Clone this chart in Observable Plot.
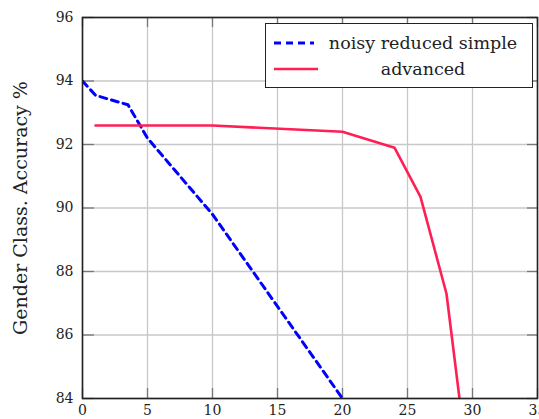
<!DOCTYPE html>
<html>
<head>
<meta charset="utf-8">
<script src="https://cdn.jsdelivr.net/npm/d3@7"></script>
<script src="https://cdn.jsdelivr.net/npm/@observablehq/plot@0.6"></script>
<style>
  html, body { margin: 0; padding: 0; background: #fff; }
  #wrap { position: relative; width: 539px; height: 419px; overflow: hidden; font-family: "DejaVu Serif", serif; }
  #legend { position: absolute; left: 265px; top: 23px; width: 268px; height: 65px; box-sizing: border-box;
            border: 1.6px solid #222; background: #fff; }
  .row { position: absolute; left: 0; right: 0; height: 22px; }
  .row svg { position: absolute; left: 7px; top: 0; }
  .row span { position: absolute; left: 60px; right: 12px; text-align: center; font-size: 17.5px; line-height: 22px; color: #222; white-space: nowrap; }
</style>
</head>
<body>
<div id="wrap"><div id="legend"></div></div>
<script>
const xTicks = [0, 5, 10, 15, 20, 25, 30, 35];
const yTicks = [84, 86, 88, 90, 92, 94, 96];
const seriesNames = ["noisy reduced simple", "advanced"];
const seriesColors = ["#0000ff", "#ff1f55"];
const seriesDash = ["7,5", null];
const noisyX = [0, 1, 3.5, 5, 10, 20];
const noisyY = [94, 93.55, 93.25, 92.2, 89.8, 84];
const advX = [1, 10, 20, 24, 26, 28, 29];
const advY = [92.6, 92.6, 92.4, 91.9, 90.35, 87.3, 84];
const yLabel = "Gender Class. Accuracy %";

const W = 539, H = 419, mL = 82, mR = 2, mT = 17, mB = 21;
const plotW = W - mL - mR, plotH = H - mT - mB;

const noisy = noisyX.map((x, i) => ({x, y: noisyY[i]}));
const adv = advX.map((x, i) => ({x, y: advY[i]}));

const chart = Plot.plot({
  width: W, height: H,
  marginLeft: mL, marginRight: mR, marginTop: mT, marginBottom: mB,
  style: {fontFamily: "DejaVu Serif, serif", fontSize: "14px", color: "#222", background: "#fff"},
  x: {domain: [0, 35]},
  y: {domain: [84, 96]},
  marks: [
    Plot.gridX(xTicks, {stroke: "#c8c8c8", strokeOpacity: 1, strokeWidth: 1.3}),
    Plot.gridY(yTicks, {stroke: "#c8c8c8", strokeOpacity: 1, strokeWidth: 1.3}),
    Plot.tickX(xTicks, {x: d => d, insetTop: plotH - 10, stroke: "#777", strokeWidth: 1.3}),
    Plot.tickX(xTicks, {x: d => d, insetBottom: plotH - 10, stroke: "#777", strokeWidth: 1.3}),
    Plot.tickY(yTicks, {y: d => d, insetRight: plotW - 12, stroke: "#777", strokeWidth: 1.3}),
    Plot.tickY(yTicks, {y: d => d, insetLeft: plotW - 10, stroke: "#777", strokeWidth: 1.3}),
    Plot.axisX(xTicks, {anchor: "bottom", tickSize: 0, tickPadding: 7, label: null, fontSize: 14}),
    Plot.axisY(yTicks, {anchor: "left", tickSize: 0, tickPadding: 9, label: null, fontSize: 14}),
    Plot.line(noisy, {x: "x", y: "y", stroke: seriesColors[0], strokeWidth: 3, strokeDasharray: seriesDash[0], clip: true}),
    Plot.line(adv, {x: "x", y: "y", stroke: seriesColors[1], strokeWidth: 2.6, clip: true}),
    Plot.frame({stroke: "#222", strokeWidth: 1.6}),
    Plot.text([yLabel], {text: d => d, frameAnchor: "left", dx: -62, rotate: -90, fontSize: 19, fill: "#222", textAnchor: "middle"})
  ]
});
document.getElementById("wrap").prepend(chart);

const legend = document.getElementById("legend");
seriesNames.forEach((name, i) => {
  const row = document.createElement("div");
  row.className = "row";
  row.style.top = (i === 0 ? 8 : 34) + "px";
  const ns = "http://www.w3.org/2000/svg";
  const svg = document.createElementNS(ns, "svg");
  svg.setAttribute("width", 46); svg.setAttribute("height", 22);
  const ln = document.createElementNS(ns, "line");
  ln.setAttribute("x1", 1); ln.setAttribute("x2", i === 0 ? 41 : 45);
  ln.setAttribute("y1", 11); ln.setAttribute("y2", 11);
  ln.setAttribute("stroke", seriesColors[i]);
  ln.setAttribute("stroke-width", i === 0 ? 3 : 2.6);
  if (seriesDash[i]) ln.setAttribute("stroke-dasharray", seriesDash[i]);
  svg.appendChild(ln);
  const sp = document.createElement("span");
  sp.textContent = name;
  row.appendChild(svg); row.appendChild(sp);
  legend.appendChild(row);
});
</script>
</body>
</html>
